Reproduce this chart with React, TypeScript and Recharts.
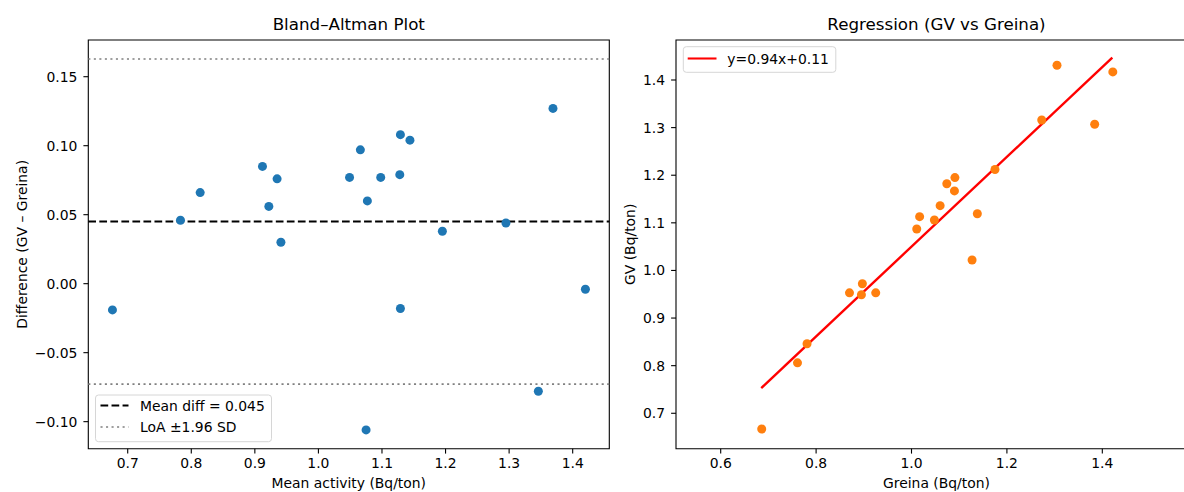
import React from 'react';
import { ScatterChart, Scatter, XAxis, YAxis, ReferenceLine, ReferenceArea } from 'recharts';

const FONT = '"DejaVu Sans", "Liberation Sans", sans-serif';

// ---- Bland–Altman data ----
const baMean = [0.676, 0.783, 0.814, 0.912, 0.922, 0.935, 0.941, 1.049, 1.066, 1.075, 1.077, 1.098, 1.128, 1.129, 1.129, 1.144, 1.195, 1.295, 1.346, 1.369, 1.420];
const baDiff = [-0.019, 0.046, 0.066, 0.085, 0.056, 0.076, 0.030, 0.077, 0.097, -0.106, 0.060, 0.077, 0.079, 0.108, -0.018, 0.104, 0.038, 0.044, -0.078, 0.127, -0.004];
const meanDiff = 0.045;
const loaUpper = 0.1628;
const loaLower = -0.0728;
const baXTicks = [0.7, 0.8, 0.9, 1.0, 1.1, 1.2, 1.3, 1.4];
const baYTicks = [-0.1, -0.05, 0, 0.05, 0.1, 0.15];
const baXDomain = [0.638, 1.4576];
const baYDomain = [-0.1196, 0.1766];

// ---- Regression data ----
const greina = [0.686, 0.761, 0.781, 0.870, 0.895, 0.897, 0.925, 1.011, 1.017, 1.048, 1.127, 1.060, 1.090, 1.074, 1.138, 1.091, 1.175, 1.273, 1.384, 1.305, 1.422];
const gv = [0.667, 0.806, 0.846, 0.953, 0.949, 0.972, 0.953, 1.087, 1.113, 1.106, 1.022, 1.136, 1.167, 1.182, 1.119, 1.195, 1.212, 1.316, 1.307, 1.431, 1.417];
const fitX = [0.685, 1.421];
const fitY = [0.753, 1.447];
const regXTicks = [0.6, 0.8, 1.0, 1.2, 1.4];
const regYTicks = [0.7, 0.8, 0.9, 1.0, 1.1, 1.2, 1.3, 1.4];
const regXDomain = [0.5063, 1.5985];
const regYDomain = [0.6256, 1.484];

const baData = baMean.map((x, i) => ({ x, y: baDiff[i] }));
const regData = greina.map((x, i) => ({ x, y: gv[i] }));

const minus = (s: string) => s.replace('-', '\u2212');
const fmt1 = (v: number) => minus(v.toFixed(1));
const fmt2 = (v: number) => minus(v.toFixed(2));

const tickStyle = { fontSize: 13.9, fill: '#000', fontFamily: FONT };
const tickLineStyle = { stroke: '#000', strokeWidth: 1.1 };

const dot = (color: string) => (props: any) => (
  <circle cx={props.cx} cy={props.cy} r={4.5} fill={color} />
);

const xLabel = (text: string) => (props: any) => {
  const vb = props.viewBox || {};
  return (
    <text x={vb.x + vb.width / 2} y={vb.y + 39} textAnchor="middle" fontSize={13.9} fontFamily={FONT} fill="#000">
      {text}
    </text>
  );
};

const yLabel = (text: string, dx: number) => (props: any) => {
  const vb = props.viewBox || {};
  const cx = vb.x + vb.width - dx;
  const cy = vb.y + vb.height / 2;
  return (
    <text x={cx} y={cy} transform={`rotate(-90 ${cx} ${cy})`} textAnchor="middle" dominantBaseline="central" fontSize={13.9} fontFamily={FONT} fill="#000">
      {text}
    </text>
  );
};

const titleStyle = (left: number, width: number): React.CSSProperties => ({
  position: 'absolute', left, top: 14, width, textAlign: 'center', fontFamily: FONT,
  fontSize: 16.7, lineHeight: '20px', color: '#000', whiteSpace: 'nowrap',
});

export default function App() {
  return (
    <div style={{ position: 'fixed', left: 0, top: 0, width: 1184, height: 492, overflow: 'hidden', background: '#fff' }}>
      {/* Left: Bland–Altman */}
      <div style={{ position: 'absolute', left: 0, top: 0 }}>
        <ScatterChart width={620} height={492} margin={{ top: 40, right: 10.7, bottom: 0, left: 0 }}>
          <XAxis type="number" dataKey="x" domain={baXDomain} allowDataOverflow ticks={baXTicks} interval={0}
            tickFormatter={fmt1} tick={tickStyle} tickLine={tickLineStyle} tickSize={4.9} tickMargin={5}
            axisLine={false} height={43.3} label={{ content: xLabel('Mean activity (Bq/ton)') }} />
          <YAxis type="number" dataKey="y" domain={baYDomain} allowDataOverflow ticks={baYTicks} interval={0}
            tickFormatter={fmt2} tick={tickStyle} tickLine={tickLineStyle} tickSize={4.9} tickMargin={6}
            axisLine={false} width={88.3} label={{ content: yLabel('Difference (GV \u2013 Greina)', 66.3) }} />
          <ReferenceLine y={loaUpper} stroke="#808080" strokeWidth={1.6} strokeDasharray="2.08 3.44" />
          <ReferenceLine y={loaLower} stroke="#808080" strokeWidth={1.6} strokeDasharray="2.08 3.44" />
          <ReferenceLine y={meanDiff} stroke="#000" strokeWidth={2.08} strokeDasharray="7.7 3.33" />
          <Scatter data={baData} fill="#1f77b4" shape={dot('#1f77b4')} isAnimationActive={false} />
          <ReferenceArea x1={baXDomain[0]} x2={baXDomain[1]} y1={baYDomain[0]} y2={baYDomain[1]}
            fill="none" stroke="#000" strokeWidth={1.1} ifOverflow="visible" />
        </ScatterChart>
      </div>

      {/* Right: Regression */}
      <div style={{ position: 'absolute', left: 600, top: 0 }}>
        <ScatterChart width={620} height={492} margin={{ top: 40, right: 23, bottom: 0, left: 0 }}>
          <XAxis type="number" dataKey="x" domain={regXDomain} allowDataOverflow ticks={regXTicks} interval={0}
            tickFormatter={fmt1} tick={tickStyle} tickLine={tickLineStyle} tickSize={4.9} tickMargin={5}
            axisLine={false} height={43.3} label={{ content: xLabel('Greina (Bq/ton)') }} />
          <YAxis type="number" dataKey="y" domain={regYDomain} allowDataOverflow ticks={regYTicks} interval={0}
            tickFormatter={fmt1} tick={tickStyle} tickLine={tickLineStyle} tickSize={4.9} tickMargin={6}
            axisLine={false} width={76} label={{ content: yLabel('GV (Bq/ton)', 46) }} />
          <Scatter data={regData} fill="#ff7f0e" shape={dot('#ff7f0e')} isAnimationActive={false} />
          <ReferenceLine segment={[{ x: fitX[0], y: fitY[0] }, { x: fitX[1], y: fitY[1] }]} stroke="#ff0000" strokeWidth={2.4} />
          <ReferenceArea x1={regXDomain[0]} x2={regXDomain[1]} y1={regYDomain[0]} y2={regYDomain[1]}
            fill="none" stroke="#000" strokeWidth={1.1} ifOverflow="visible" />
        </ScatterChart>
      </div>

      <div style={titleStyle(88.3, 521)}>Bland–Altman Plot</div>
      <div style={titleStyle(676, 521)}>Regression (GV vs Greina)</div>

      {/* Legends */}
      <svg width={1184} height={492} style={{ position: 'absolute', left: 0, top: 0, pointerEvents: 'none' }}>
        <rect x={95.5} y={395} width={176} height={46.7} rx={3} fill="#fff" fillOpacity={0.8} stroke="#d6d6d6" strokeWidth={1} />
        <line x1={100.5} x2={128.5} y1={405.5} y2={405.5} stroke="#000" strokeWidth={2.08} strokeDasharray="7.7 3.33" />
        <text x={140} y={411} fontSize={13.9} fontFamily={FONT} fill="#000">Mean diff = 0.045</text>
        <line x1={100.5} x2={128.5} y1={427} y2={427} stroke="#808080" strokeWidth={1.6} strokeDasharray="2.08 3.44" />
        <text x={140} y={432} fontSize={13.9} fontFamily={FONT} fill="#000">LoA ±1.96 SD</text>

        <rect x={683.3} y={46.7} width={152.5} height={25.6} rx={3} fill="#fff" fillOpacity={0.8} stroke="#d6d6d6" strokeWidth={1} />
        <line x1={687.7} x2={716.5} y1={58.5} y2={58.5} stroke="#ff0000" strokeWidth={2.08} />
        <text x={727.3} y={63.5} fontSize={13.9} fontFamily={FONT} fill="#000">y=0.94x+0.11</text>
      </svg>
    </div>
  );
}
